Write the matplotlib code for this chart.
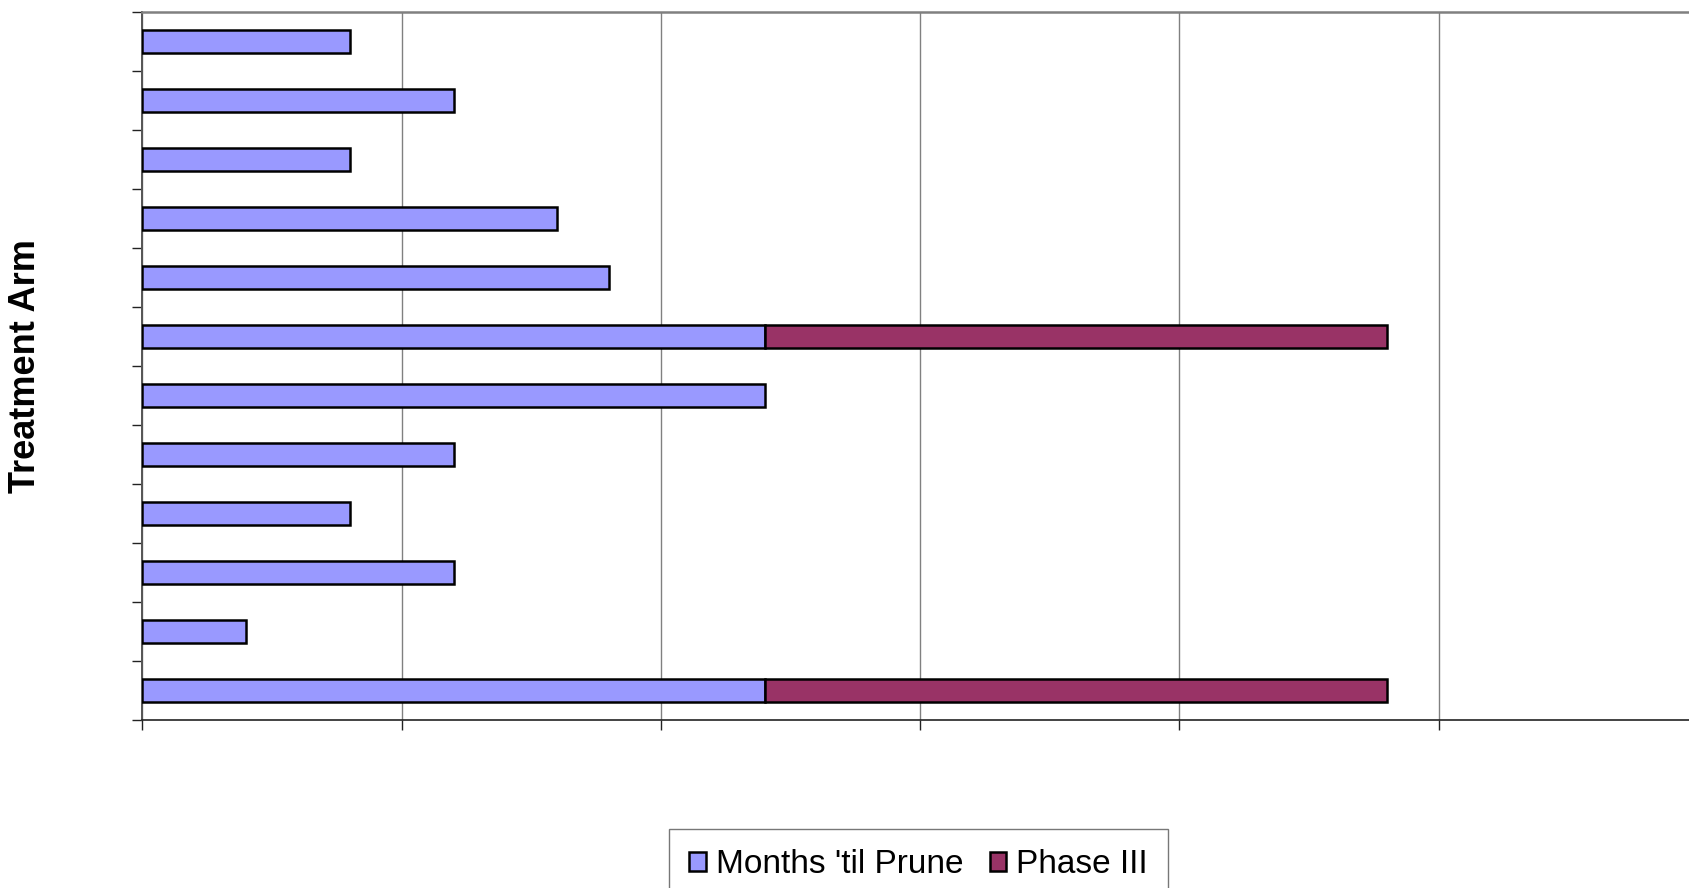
import matplotlib
matplotlib.use("Agg")
import matplotlib.pyplot as plt
from matplotlib.patches import Patch
import numpy as np

plt.rcParams['font.family'] = ['Liberation Sans', 'DejaVu Sans']

# Data (top to bottom)
arms = ["Arm 1", "Arm 2", "Arm 3", "Arm 4", "Arm 5", "Arm 6",
        "Arm 7", "Arm 8", "Arm 9", "Arm 10", "Arm 11", "Arm 12"]
months_til_prune = [8, 12, 8, 16, 18, 24, 24, 12, 8, 12, 4, 24]
phase_iii = [0, 0, 0, 0, 0, 24, 0, 0, 0, 0, 0, 24]
x_ticks = [0, 10, 20, 30, 40, 50, 60]

blue = '#9999FF'
plum = '#993366'

fig = plt.figure(figsize=(16.9, 8.88), dpi=100)
ax = fig.add_axes([142.4 / 1690, 1 - 720 / 888, (1698 - 142.4) / 1690, (720 - 12) / 888])

y = np.arange(len(arms))
ax.barh(y, months_til_prune, height=0.4, color=blue, edgecolor='black', linewidth=1.8, zorder=3)
idx = [i for i, v in enumerate(phase_iii) if v > 0]
ax.barh([y[i] for i in idx], [phase_iii[i] for i in idx], left=[months_til_prune[i] for i in idx],
        height=0.4, color=plum, edgecolor='black', linewidth=1.8, zorder=3)

ax.set_xlim(x_ticks[0], x_ticks[-1])
ax.set_ylim(len(arms) - 0.5, -0.5)
ax.set_xticks(x_ticks)
ax.set_xticklabels([])
ax.set_yticks(np.arange(len(arms) + 1) - 0.5)
ax.set_yticklabels([])
ax.tick_params(axis='both', direction='out', length=7.2, width=1.0, color='#222222')
ax.grid(axis='x', color='#808080', linewidth=1.0, zorder=1)
ax.set_axisbelow(True)

ax.spines['top'].set_color('#808080')
ax.spines['top'].set_linewidth(1.8)
ax.spines['right'].set_color('#808080')
ax.spines['left'].set_color('#555555')
ax.spines['left'].set_linewidth(1.4)
ax.spines['bottom'].set_color('#222222')
ax.spines['bottom'].set_linewidth(1.2)

fig.text(26 / 1690, 1 - 366 / 888, 'Treatment Arm', rotation=90, fontsize=26,
         fontweight='bold', ha='center', va='center')

handles = [Patch(facecolor=blue, edgecolor='black', linewidth=1.8),
           Patch(facecolor=plum, edgecolor='black', linewidth=1.8)]
leg = fig.legend(handles, ["Months 'til Prune", "Phase III"], loc='upper left',
                 bbox_to_anchor=(669 / 1690, 1 - 829 / 888), ncol=2, fontsize=24,
                 frameon=True, fancybox=False, handlelength=0.5, handleheight=0.5,
                 handletextpad=0.3, columnspacing=0.8, borderpad=0.6, borderaxespad=0)
leg.get_frame().set_edgecolor('#555555')
leg.get_frame().set_linewidth(1.0)

fig.savefig('out.png', dpi=100)
